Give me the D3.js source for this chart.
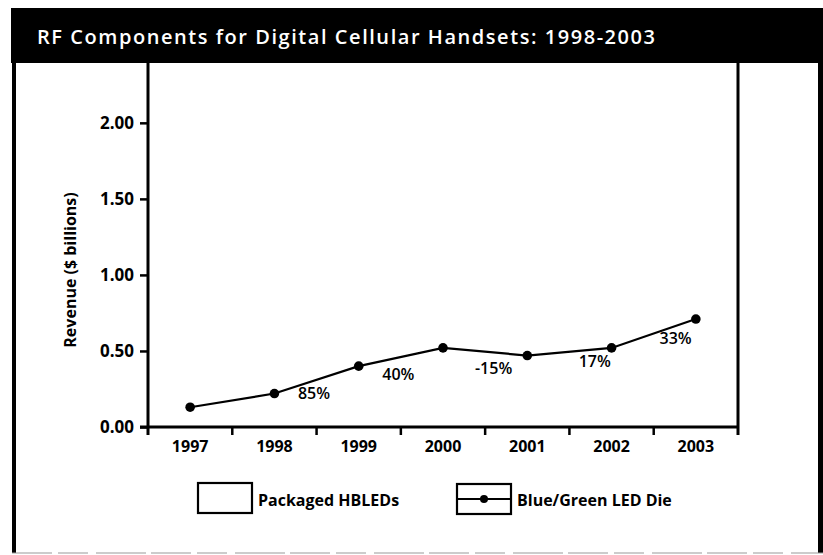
<!DOCTYPE html>
<html>
<head>
<meta charset="utf-8">
<script src="https://cdn.jsdelivr.net/npm/d3@7/dist/d3.min.js"></script>
<style>
  html, body { margin: 0; padding: 0; background: #fff; }
  svg { display: block; }
  text { font-family: "Open Sans", "Noto Sans", sans-serif; }
</style>
</head>
<body>
<svg id="chart" width="823" height="555"></svg>
<script>
// ---- data ----
const titleText = "RF Components for Digital Cellular Handsets: 1998-2003";
const yAxisTitle = "Revenue ($ billions)";
const years = ["1997", "1998", "1999", "2000", "2001", "2002", "2003"];
const dieRevenue = [0.13, 0.22, 0.40, 0.52, 0.47, 0.52, 0.71];
const growthLabels = ["", "85%", "40%", "-15%", "17%", "33%"];
const yTicks = [0, 0.5, 1.0, 1.5, 2.0];
const legendNames = ["Packaged HBLEDs", "Blue/Green LED Die"];

// ---- layout ----
const W = 823, H = 555;
const plot = { left: 148, right: 738, top: 62, bottom: 427 };
const svg = d3.select("#chart");

// frame / header
svg.append("rect").attr("x", 11).attr("y", 8).attr("width", W - 11).attr("height", 55).attr("fill", "#000");
svg.append("rect").attr("x", 12).attr("y", 62).attr("width", 4).attr("height", 491).attr("fill", "#000");
svg.append("rect").attr("x", 818).attr("y", 62).attr("width", 5).attr("height", 491).attr("fill", "#000");
svg.append("line").attr("x1", 12).attr("x2", 823).attr("y1", 553).attr("y2", 553)
  .attr("stroke", "#999").attr("stroke-width", 1.2).attr("stroke-dasharray", "40 6 30 8 50 5");

svg.append("text").attr("x", 37).attr("y", 44)
  .attr("fill", "#fff").attr("font-size", 20).attr("font-weight", 600)
  .attr("textLength", 618).attr("lengthAdjust", "spacing")
  .text(titleText);

// scales
const x = d3.scaleBand().domain(years).range([plot.left, plot.right]).padding(0);
const y = d3.scaleLinear().domain([0, 2.4]).range([plot.bottom, plot.top]);
const cx = d => x(d) + x.bandwidth() / 2;

// y axis
const yAxis = svg.append("g").attr("transform", `translate(${plot.left},0)`)
  .call(d3.axisLeft(y).tickValues(yTicks).tickFormat(d3.format(".2f")).tickSize(8).tickPadding(6).tickSizeOuter(0));
yAxis.select(".domain").remove();
yAxis.selectAll(".tick line").attr("stroke", "#000").attr("stroke-width", 2.5);
yAxis.selectAll(".tick text").attr("font-size", 17).attr("font-weight", 700).attr("fill", "#000");

// x axis labels
const xAxis = svg.append("g").attr("transform", `translate(0,${plot.bottom})`)
  .call(d3.axisBottom(x).tickSize(0).tickPadding(14));
xAxis.select(".domain").remove();
xAxis.selectAll(".tick text").attr("font-size", 16).attr("font-weight", 700).attr("fill", "#000");

// axis lines
svg.append("line").attr("x1", plot.left).attr("x2", plot.left).attr("y1", plot.top).attr("y2", plot.bottom + 8)
  .attr("stroke", "#000").attr("stroke-width", 3);
svg.append("line").attr("x1", plot.right).attr("x2", plot.right).attr("y1", plot.top).attr("y2", plot.bottom + 8)
  .attr("stroke", "#000").attr("stroke-width", 3);
svg.append("line").attr("x1", plot.left - 8).attr("x2", plot.right).attr("y1", plot.bottom).attr("y2", plot.bottom)
  .attr("stroke", "#000").attr("stroke-width", 3);
// x ticks between categories
svg.append("g").selectAll("line").data(years.slice(1)).join("line")
  .attr("x1", d => x(d)).attr("x2", d => x(d))
  .attr("y1", plot.bottom).attr("y2", plot.bottom + 8)
  .attr("stroke", "#000").attr("stroke-width", 2.5);

// y axis title
svg.append("text")
  .attr("transform", `translate(76,270) rotate(-90)`)
  .attr("text-anchor", "middle").attr("font-size", 16).attr("font-weight", 700)
  .text(yAxisTitle);

// line
const line = d3.line().x((d, i) => cx(years[i])).y(d => y(d));
svg.append("path").datum(dieRevenue).attr("d", line)
  .attr("fill", "none").attr("stroke", "#000").attr("stroke-width", 2.2);
svg.append("g").selectAll("circle").data(dieRevenue).join("circle")
  .attr("cx", (d, i) => cx(years[i])).attr("cy", d => y(d)).attr("r", 4.8).attr("fill", "#000");

// growth labels (placed along each segment, below the line)
const labelT = [0, 0.47, 0.47, 0.6, 0.8, 0.76];
const labelDy = [0, 18, 22, 22, 18, 18];
svg.append("g").selectAll("text").data(growthLabels).join("text")
  .filter(d => d !== "")
  .attr("x", (d) => {
    const j = growthLabels.indexOf(d);
    return cx(years[j]) + (cx(years[j + 1]) - cx(years[j])) * labelT[j];
  })
  .attr("y", (d) => {
    const j = growthLabels.indexOf(d);
    const yy = y(dieRevenue[j]) + (y(dieRevenue[j + 1]) - y(dieRevenue[j])) * labelT[j];
    return yy + labelDy[j];
  })
  .attr("text-anchor", "middle").attr("font-size", 16).attr("font-weight", 600)
  .text(d => d);

// legend
const lg = svg.append("g");
lg.append("rect").attr("x", 198).attr("y", 483).attr("width", 54).attr("height", 30)
  .attr("fill", "none").attr("stroke", "#000").attr("stroke-width", 2.2);
lg.append("text").attr("x", 258).attr("y", 506).attr("font-size", 16).attr("font-weight", 700).text(legendNames[0]);
lg.append("rect").attr("x", 457).attr("y", 484).attr("width", 54).attr("height", 30)
  .attr("fill", "none").attr("stroke", "#000").attr("stroke-width", 2.2);
lg.append("line").attr("x1", 457).attr("x2", 511).attr("y1", 499).attr("y2", 499)
  .attr("stroke", "#000").attr("stroke-width", 2);
lg.append("circle").attr("cx", 484).attr("cy", 499).attr("r", 4).attr("fill", "#000");
lg.append("text").attr("x", 517).attr("y", 506).attr("font-size", 16).attr("font-weight", 700).text(legendNames[1]);
</script>
</body>
</html>
